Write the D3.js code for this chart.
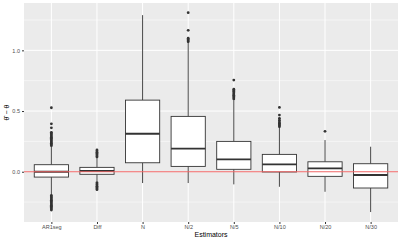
<!DOCTYPE html>
<html>
<head>
<meta charset="utf-8">
<script src="https://cdn.jsdelivr.net/npm/d3@7"></script>
<style>
  body { margin: 0; background: #fff; }
  text { font-family: "Liberation Sans", Arial, sans-serif; }
</style>
</head>
<body>
<script>
// chart values
var categories = ["AR1seg", "Diff", "N", "N/2", "N/5", "N/10", "N/20", "N/30"];
var q1 = [-0.044, -0.021, 0.074, 0.044, 0.02, -0.002, -0.038, -0.134];
var medians = [0.0, 0.006, 0.313, 0.19, 0.102, 0.061, 0.028, -0.027];
var q3 = [0.058, 0.036, 0.59, 0.456, 0.25, 0.143, 0.082, 0.066];
var whiskerLow = [-0.19, -0.08, -0.093, -0.093, -0.104, -0.124, -0.165, -0.332];
var whiskerHigh = [0.206, 0.115, 1.29, 1.06, 0.59, 0.36, 0.261, 0.206];
var outliers = [
  [0.215, 0.225, 0.235, 0.245, 0.255, 0.265, 0.275, 0.285, 0.295, 0.305, 0.315, 0.325, 0.362, 0.395, 0.527,
   -0.195, -0.205, -0.215, -0.225, -0.235, -0.245, -0.255, -0.265, -0.275, -0.285, -0.295, -0.305, -0.315],
  [0.122, 0.13, 0.14, 0.15, 0.16, 0.17, 0.18, -0.09, -0.1, -0.11, -0.12, -0.13, -0.14, -0.148],
  [],
  [1.07, 1.08, 1.09, 1.1, 1.165, 1.31],
  [0.6, 0.61, 0.62, 0.63, 0.64, 0.65, 0.66, 0.67, 0.68, 0.755],
  [0.37, 0.38, 0.39, 0.40, 0.41, 0.425, 0.44, 0.467, 0.53],
  [0.333],
  []
];
var yTicks = [0.0, 0.5, 1.0];
var yMinor = [-0.25, 0.25, 0.75, 1.25];

var margin = { top: 3, right: 2, bottom: 18, left: 24 };
var width = 400 - margin.left - margin.right;
var height = 240 - margin.top - margin.bottom;

var svg = d3.select("body").append("svg")
  .attr("width", 400)
  .attr("height", 240);

var g = svg.append("g")
  .attr("transform", "translate(" + margin.left + "," + margin.top + ")");

// discrete scale with ggplot style expansion of 0.6
var x = d3.scalePoint().domain(categories).range([0, width]).padding(0.6);
var step = x.step();
var y = d3.scaleLinear().domain([-0.414, 1.39]).range([height, 0]);

g.append("rect").attr("width", width).attr("height", height).attr("fill", "#ebebeb");

// minor grid
g.selectAll(".minor").data(yMinor).enter().append("line")
  .attr("x1", 0).attr("x2", width)
  .attr("y1", d => y(d)).attr("y2", d => y(d))
  .attr("stroke", "#fff").attr("stroke-width", 0.5);

// major grid
g.selectAll(".major").data(yTicks).enter().append("line")
  .attr("x1", 0).attr("x2", width)
  .attr("y1", d => y(d)).attr("y2", d => y(d))
  .attr("stroke", "#fff").attr("stroke-width", 1);
g.selectAll(".vmajor").data(categories).enter().append("line")
  .attr("x1", d => x(d)).attr("x2", d => x(d))
  .attr("y1", 0).attr("y2", height)
  .attr("stroke", "#fff").attr("stroke-width", 1);

var boxW = step * 0.75;
var stroke = "#333333";

var box = g.selectAll(".box").data(categories).enter().append("g");

// whiskers
box.append("line")
  .attr("x1", d => x(d)).attr("x2", d => x(d))
  .attr("y1", (d, i) => y(q3[i])).attr("y2", (d, i) => y(whiskerHigh[i]))
  .attr("stroke", stroke).attr("stroke-width", 0.9);
box.append("line")
  .attr("x1", d => x(d)).attr("x2", d => x(d))
  .attr("y1", (d, i) => y(q1[i])).attr("y2", (d, i) => y(whiskerLow[i]))
  .attr("stroke", stroke).attr("stroke-width", 0.9);

// boxes
box.append("rect")
  .attr("x", d => x(d) - boxW / 2)
  .attr("width", boxW)
  .attr("y", (d, i) => y(q3[i]))
  .attr("height", (d, i) => y(q1[i]) - y(q3[i]))
  .attr("fill", "#fff")
  .attr("stroke", stroke).attr("stroke-width", 0.9);

// medians
box.append("line")
  .attr("x1", d => x(d) - boxW / 2).attr("x2", d => x(d) + boxW / 2)
  .attr("y1", (d, i) => y(medians[i])).attr("y2", (d, i) => y(medians[i]))
  .attr("stroke", stroke).attr("stroke-width", 1.8);

// outliers
box.each(function (d, i) {
  d3.select(this).selectAll("circle").data(outliers[i]).enter().append("circle")
    .attr("cx", x(d))
    .attr("cy", v => y(v))
    .attr("r", 1.4)
    .attr("fill", stroke);
});

// reference line at zero
g.append("line")
  .attr("x1", 0).attr("x2", width)
  .attr("y1", y(0)).attr("y2", y(0))
  .attr("stroke", "#f06666").attr("stroke-width", 1.1);

// axes
var yAxis = g.append("g").call(d3.axisLeft(y).tickValues(yTicks).tickFormat(d3.format(".1f")).tickSize(2).tickPadding(2));
var xAxis = g.append("g").attr("transform", "translate(0," + height + ")")
  .call(d3.axisBottom(x).tickSize(2).tickPadding(1.5));
[yAxis, xAxis].forEach(function (a) {
  a.select(".domain").remove();
  a.selectAll(".tick line").attr("stroke", "#333");
  a.selectAll("text").attr("fill", "#4d4d4d").style("font-size", "5.5px");
});

// axis titles
svg.append("text")
  .attr("x", margin.left + width / 2)
  .attr("y", 237)
  .attr("text-anchor", "middle")
  .style("font-size", "7px")
  .attr("fill", "#000")
  .text("Estimators");

svg.append("text")
  .attr("transform", "translate(9," + (margin.top + height / 2) + ") rotate(-90)")
  .attr("text-anchor", "middle")
  .style("font-size", "7px")
  .attr("fill", "#000")
  .text("θ̂ − θ");
</script>
</body>
</html>
